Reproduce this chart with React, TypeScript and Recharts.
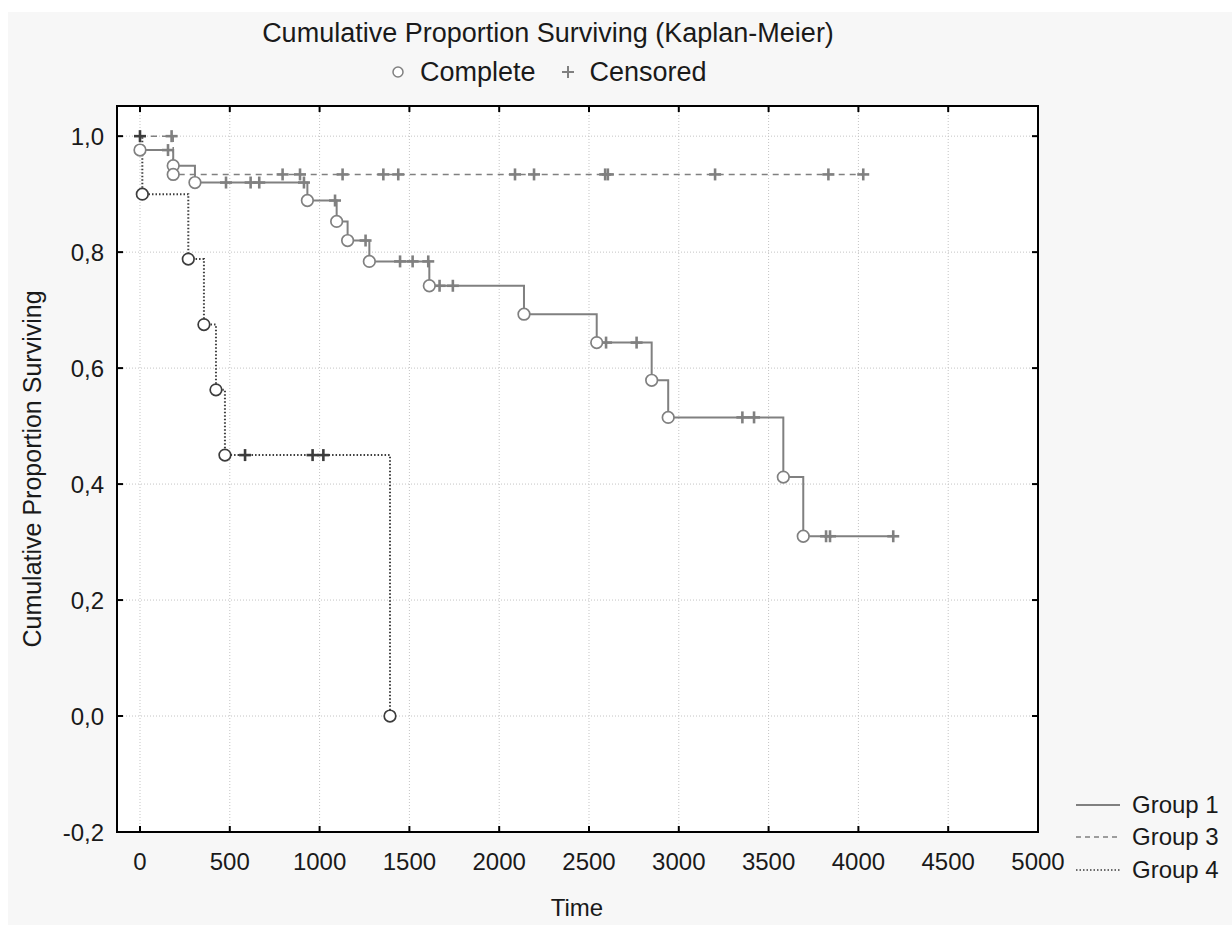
import React from 'react'
import { ComposedChart, Line, Scatter, XAxis, YAxis, CartesianGrid, ReferenceArea, ReferenceLine } from 'recharts'

// [time, cumulative proportion surviving]
const group1Complete = [
  [0, 0.976], [185, 0.949], [306, 0.92], [932, 0.889], [1095, 0.853], [1156, 0.82],
  [1277, 0.784], [1611, 0.742], [2138, 0.693], [2543, 0.644], [2849, 0.579], [2941, 0.515],
  [3582, 0.412], [3693, 0.31],
]
const group1Censored = [
  [156, 0.976], [479, 0.92], [616, 0.92], [664, 0.92], [913, 0.92], [1086, 0.889],
  [1256, 0.82], [1448, 0.784], [1518, 0.784], [1605, 0.784], [1668, 0.742], [1742, 0.742],
  [2595, 0.644], [2765, 0.644], [3354, 0.515], [3419, 0.515], [3820, 0.31], [3842, 0.31],
  [4194, 0.31],
]

const group3Start = [0, 1.0]
const group3Complete = [[185, 0.934]]
const group3Censored = [
  [176, 1.0], [794, 0.934], [891, 0.934], [1128, 0.934], [1355, 0.934], [1438, 0.934],
  [2088, 0.934], [2194, 0.934], [2590, 0.934], [2605, 0.934], [3202, 0.934], [3833, 0.934],
  [4027, 0.934],
]

const group4Start = [0, 1.0]
const group4Complete = [
  [13, 0.9], [269, 0.788], [356, 0.675], [423, 0.5625], [473, 0.45], [1392, 0.0],
]
const group4Censored = [[0, 1.0], [585, 0.45], [961, 0.45], [1021, 0.45]]

const timeTicks = [0, 500, 1000, 1500, 2000, 2500, 3000, 3500, 4000, 4500, 5000]
const survTicks = [-0.2, 0, 0.2, 0.4, 0.6, 0.8, 1.0]

const X_MIN = -128
const X_MAX = 5000
const Y_MIN = -0.2
const Y_MAX = 1.052

const GREY = '#808080'
const DARK = '#3c3c3c'
const FONT = '"Liberation Sans", Arial, sans-serif'

const toPoints = (rows: number[][]) => rows.map(([t, s]) => ({ t, s }))

// merge events and censorings into one sorted step path
const stepPath = (start: number[] | null, complete: number[][], censored: number[][]) => {
  const rows = [...complete, ...censored].sort((a, b) => a[0] - b[0])
  return toPoints(start ? [start, ...rows] : rows)
}

const CircleMark = (color: string) => (props: any) => {
  const { cx, cy } = props
  return <circle cx={cx} cy={cy} r={5.8} fill="#fff" stroke={color} strokeWidth={1.7} />
}

const CrossMark = (color: string) => (props: any) => {
  const { cx, cy } = props
  return (
    <g stroke={color} strokeWidth={2.6}>
      <line x1={cx - 6} y1={cy} x2={cx + 6} y2={cy} />
      <line x1={cx} y1={cy - 6} x2={cx} y2={cy + 6} />
    </g>
  )
}

// inward tick marks on all four sides (6px long)
const xTickLen = 6 * (Y_MAX - Y_MIN) / 726
const yTickLen = 6 * (X_MAX - X_MIN) / 921

const fmtSurv = (v: number) => v.toFixed(1).replace('.', ',').replace('-0,0', '0,0')

const App = () => {
  const g1 = stepPath(null, group1Complete, group1Censored)
  const g3 = stepPath(group3Start, group3Complete, group3Censored)
  const g4 = stepPath(group4Start, group4Complete, group4Censored)

  return (
    <div
      style={{
        position: 'absolute', left: 8, top: 12, width: 1224, height: 913,
        background: '#f7f7f7', fontFamily: FONT, color: '#1a1a1a',
      }}
    >
      <div style={{ position: 'absolute', left: 0, width: 1080, top: 5, textAlign: 'center', fontSize: 27, lineHeight: '32px', whiteSpace: 'nowrap' }}>
        Cumulative Proportion Surviving (Kaplan-Meier)
      </div>
      <div style={{ position: 'absolute', left: 382, top: 44, height: 32, display: 'flex', alignItems: 'center', fontSize: 27, whiteSpace: 'nowrap' }}>
        <svg width={16} height={16} style={{ marginRight: 14 }}>
          <circle cx={8} cy={8} r={5} fill="#fff" stroke={GREY} strokeWidth={1.5} />
        </svg>
        Complete
        <svg width={16} height={16} style={{ marginLeft: 24, marginRight: 14 }}>
          <g stroke={GREY} strokeWidth={2}>
            <line x1={2} y1={8} x2={14} y2={8} />
            <line x1={8} y1={2} x2={8} y2={14} />
          </g>
        </svg>
        Censored
      </div>

      <div
        style={{
          position: 'absolute', left: 24 - 250, top: 457 - 15, width: 500, height: 30,
          textAlign: 'center', fontSize: 25, lineHeight: '30px', transform: 'rotate(-90deg)',
        }}
      >
        Cumulative Proportion Surviving
      </div>
      <div style={{ position: 'absolute', left: 569 - 100, top: 896 - 15, width: 200, textAlign: 'center', fontSize: 24, lineHeight: '30px' }}>
        Time
      </div>

      {[
        { name: 'Group 1', dash: undefined, color: GREY, w: 2, top: 793 },
        { name: 'Group 3', dash: '5 4', color: GREY, w: 1.5, top: 825 },
        { name: 'Group 4', dash: '1.5 2', color: DARK, w: 1.6, top: 858 },
      ].map((g) => (
        <div key={g.name} style={{ position: 'absolute', left: 1068, top: g.top - 15, height: 30, display: 'flex', alignItems: 'center', fontSize: 24 }}>
          <svg width={44} height={10} style={{ marginRight: 12 }}>
            <line x1={0} y1={5} x2={44} y2={5} stroke={g.color} strokeWidth={g.w} strokeDasharray={g.dash} />
          </svg>
          {g.name}
        </div>
      ))}

      <div style={{ position: 'absolute', left: 0, top: 0 }}>
        <ComposedChart width={1224} height={913} margin={{ top: 94, right: 194, bottom: 53, left: 49 }}>
          <CartesianGrid stroke="#c4c4c4" strokeDasharray="1 2" fill="#ffffff" />
          <XAxis
            type="number"
            dataKey="t"
            domain={[X_MIN, X_MAX]}
            ticks={timeTicks}
            allowDataOverflow
            axisLine={false}
            tickLine={false}
            tickSize={0}
            tickMargin={21}
            height={40}
            tick={{ fill: '#1a1a1a', fontSize: 24, fontFamily: FONT }}
          />
          <YAxis
            type="number"
            dataKey="s"
            domain={[Y_MIN, Y_MAX]}
            ticks={survTicks}
            allowDataOverflow
            axisLine={false}
            tickLine={false}
            tickSize={0}
            tickMargin={13}
            width={60}
            tickFormatter={fmtSurv}
            tick={{ fill: '#1a1a1a', fontSize: 24, fontFamily: FONT }}
          />
          <ReferenceArea x1={X_MIN} x2={X_MAX} y1={Y_MIN} y2={Y_MAX} fill="none" stroke="#000" strokeWidth={2} fillOpacity={0} strokeOpacity={1} />
          {timeTicks.map((t) => (
            <ReferenceLine key={'b' + t} segment={[{ x: t, y: Y_MIN }, { x: t, y: Y_MIN + xTickLen }]} stroke="#000" strokeWidth={2} />
          ))}
          {timeTicks.map((t) => (
            <ReferenceLine key={'t' + t} segment={[{ x: t, y: Y_MAX }, { x: t, y: Y_MAX - xTickLen }]} stroke="#000" strokeWidth={2} />
          ))}
          {survTicks.map((v) => (
            <ReferenceLine key={'l' + v} segment={[{ x: X_MIN, y: v }, { x: X_MIN + yTickLen, y: v }]} stroke="#000" strokeWidth={2} />
          ))}
          {survTicks.map((v) => (
            <ReferenceLine key={'r' + v} segment={[{ x: X_MAX, y: v }, { x: X_MAX - yTickLen, y: v }]} stroke="#000" strokeWidth={2} />
          ))}

          <Line data={g1} dataKey="s" type="stepAfter" stroke={GREY} strokeWidth={2} dot={false} activeDot={false} isAnimationActive={false} />
          <Line data={g3} dataKey="s" type="stepAfter" stroke={GREY} strokeWidth={1.5} strokeDasharray="6 5" dot={false} activeDot={false} isAnimationActive={false} />
          <Line data={g4} dataKey="s" type="stepAfter" stroke={DARK} strokeWidth={2} strokeDasharray="1.5 2" dot={false} activeDot={false} isAnimationActive={false} />

          <Scatter data={toPoints(group1Censored)} shape={CrossMark(GREY)} isAnimationActive={false} />
          <Scatter data={toPoints(group3Censored)} shape={CrossMark(GREY)} isAnimationActive={false} />
          <Scatter data={toPoints(group1Complete)} shape={CircleMark(GREY)} isAnimationActive={false} />
          <Scatter data={toPoints(group3Complete)} shape={CircleMark(GREY)} isAnimationActive={false} />
          <Scatter data={toPoints(group4Censored)} shape={CrossMark(DARK)} isAnimationActive={false} />
          <Scatter data={toPoints(group4Complete)} shape={CircleMark(DARK)} isAnimationActive={false} />
        </ComposedChart>
      </div>
    </div>
  )
}

export default App
